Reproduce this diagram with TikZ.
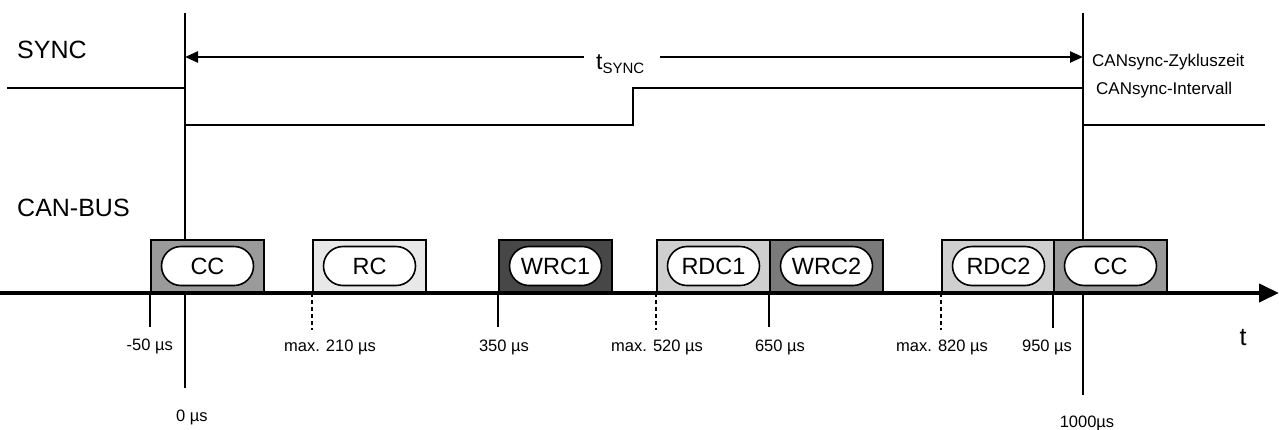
\documentclass[tikz,border=0pt]{standalone}
\usepackage{fontspec}
\setmainfont{Liberation Sans}
\usetikzlibrary{shapes.misc,arrows.meta}
\definecolor{ccgray}{HTML}{9A9A9A}
\definecolor{rcgray}{HTML}{E8E8E8}
\definecolor{wrcdark}{HTML}{474747}
\definecolor{rdcgray}{HTML}{CFCFCF}
\definecolor{wrcmid}{HTML}{7A7A7A}
\begin{document}
\begin{tikzpicture}[x=1pt,y=-1pt,
  frame/.style={draw=black,line width=2pt,minimum width=113pt,minimum height=52pt,inner sep=0pt,anchor=south west},
  pill/.style={rounded rectangle,draw=black,fill=white,line width=1.6pt,minimum width=92pt,minimum height=39pt,inner sep=0pt,font=\fontsize{23.5}{24}\selectfont},
  biglabel/.style={font=\fontsize{25}{26}\selectfont,inner sep=0pt,anchor=base west},
  ticklabel/.style={font=\fontsize{16.5}{17}\selectfont,inner sep=0pt,anchor=base},
  sidelabel/.style={font=\fontsize{17}{18}\selectfont,inner sep=0pt,anchor=base west},
  mainline/.style={line width=2.8pt},
  sig/.style={line width=2.4pt},
  tick/.style={line width=2pt},
  dtick/.style={line width=2pt,dash pattern=on 4pt off 3pt},
]
\useasboundingbox (0,0) rectangle (1279,429);

% coordinates
\coordinate (v0top) at (185,13);
\coordinate (v0bot) at (185,388);
\coordinate (v1top) at (1083,13);
\coordinate (v1bot) at (1083,395);
\coordinate (axL) at (0,293);
\coordinate (axR) at (1279,293);

% main vertical lines (behind the frames)
\draw[mainline] (v0top) -- (v0bot);
\draw[mainline] (v1top) -- (v1bot);

% boxes
\node[frame,fill=ccgray]  (bcc1) at (150,293) {};
\node[frame,fill=rcgray]  (brc)  at (312,293) {};
\node[frame,fill=wrcdark] (bwrc1) at (498,293) {};
\node[frame,fill=rdcgray] (brdc1) at (656,293) {};
\node[frame,fill=wrcmid]  (bwrc2) at (769,293) {};
\node[frame,fill=rdcgray] (brdc2) at (941,293) {};
\node[frame,fill=ccgray]  (bcc2) at (1053,293) {};

% pills
\node[pill] (pcc1) at (bcc1.center) {CC};
\node[pill] (prc) at (brc.center) {RC};
\node[pill] (pwrc1) at (bwrc1.center) {WRC1};
\node[pill] (prdc1) at (brdc1.center) {RDC1};
\node[pill] (pwrc2) at (bwrc2.center) {WRC2};
\node[pill] (prdc2) at (brdc2.center) {RDC2};
\node[pill] (pcc2) at (bcc2.center) {CC};

% time axis
\draw[line width=4pt,-{Triangle[length=20pt,width=18pt]}] (axL) -- (axR);

% SYNC signal
\coordinate (s0) at (7,88);
\coordinate (s1) at (185,88);
\coordinate (s2) at (185,125);
\coordinate (s3) at (633,125);
\coordinate (s4) at (633,88);
\coordinate (s5) at (1083,88);
\coordinate (s6) at (1083,125);
\coordinate (s7) at (1265,125);
\draw[sig] (s0) -- (s1);
\draw[sig] (s2) -- (s3) -- (s4) -- (s5);
\draw[sig] (s6) -- (s7);

% t_SYNC arrow
\coordinate (aL) at (185,57);
\coordinate (aR) at (1083,57);
\node[font=\fontsize{23}{24}\selectfont,inner sep=0pt,anchor=base west] (tsync) at (596,69) {t\raisebox{-4pt}{\fontsize{15}{15}\selectfont SYNC}};
\coordinate (gL) at (584,57);
\coordinate (gR) at (660,57);
\draw[sig,{Triangle[length=13pt,width=11pt]}-] (aL) -- (gL);
\draw[sig,-{Triangle[length=13pt,width=11pt]}] (gR) -- (aR);

% labels
\node[biglabel] (lsync) at (17,58) {SYNC};
\node[biglabel] (lcan) at (17,216) {CAN-BUS};
\node[sidelabel] (lzyk) at (1092,66) {CANsync-Zykluszeit};
\node[sidelabel] (lint) at (1096,94) {CANsync-Intervall};
\node[font=\fontsize{25}{26}\selectfont,inner sep=0pt,anchor=base] (lt) at (1243,345) {t};

% ticks
\coordinate (k1a) at (150,293); \coordinate (k1b) at (150,327);
\coordinate (k2a) at (312,293); \coordinate (k2b) at (312,330);
\coordinate (k3a) at (498,293); \coordinate (k3b) at (498,327);
\coordinate (k4a) at (656,293); \coordinate (k4b) at (656,330);
\coordinate (k5a) at (769,293); \coordinate (k5b) at (769,327);
\coordinate (k6a) at (941,293); \coordinate (k6b) at (941,330);
\coordinate (k7a) at (1053,293); \coordinate (k7b) at (1053,328);
\draw[tick] (k1a) -- (k1b);
\draw[dtick] (k2a) -- (k2b);
\draw[tick] (k3a) -- (k3b);
\draw[dtick] (k4a) -- (k4b);
\draw[tick] (k5a) -- (k5b);
\draw[dtick] (k6a) -- (k6b);
\draw[tick] (k7a) -- (k7b);

\node[ticklabel,anchor=base east] (l1) at (173,350) {-50 µs};
\node[ticklabel] (l2) at (330,351) {max. 210 µs};
\node[ticklabel] (l3) at (504,351) {350 µs};
\node[ticklabel] (l4) at (657,351) {max. 520 µs};
\node[ticklabel] (l5) at (780,351) {650 µs};
\node[ticklabel] (l6) at (942,351) {max. 820 µs};
\node[ticklabel] (l7) at (1047,351) {950 µs};
\node[ticklabel] (l8) at (192,421) {0 µs};
\node[ticklabel] (l9) at (1087,427) {1000µs};
\end{tikzpicture}
\end{document}
